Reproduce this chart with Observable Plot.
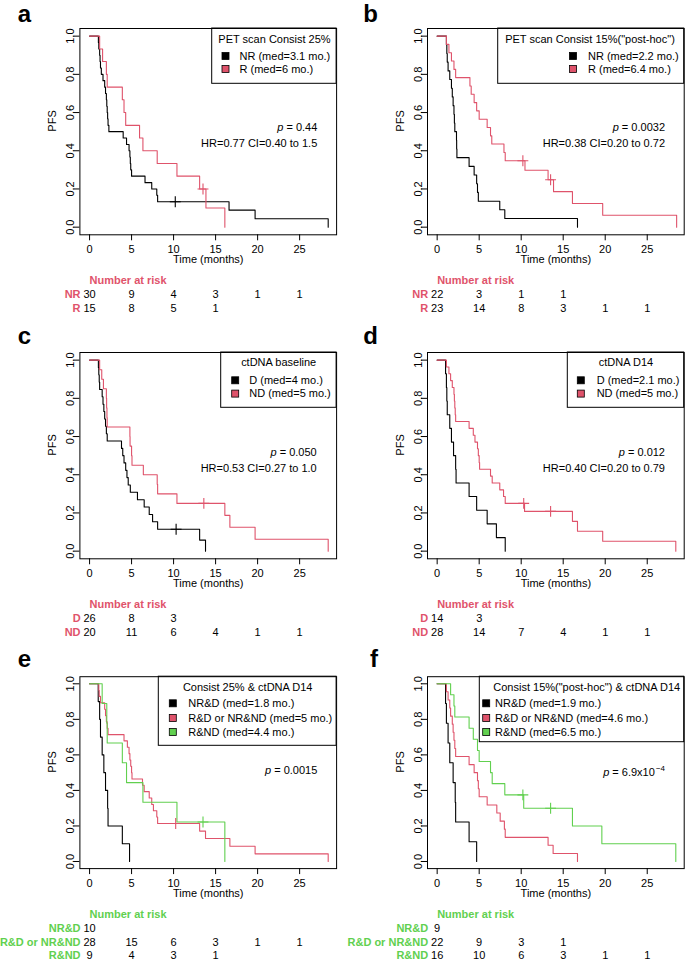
<!DOCTYPE html>
<html><head><meta charset="utf-8">
<script src="https://cdn.jsdelivr.net/npm/d3@7"></script>
<script src="https://cdn.jsdelivr.net/npm/@observablehq/plot@0.6"></script>
<style>
body{margin:0;background:#fff;}
#page{position:relative;width:685px;height:963px;overflow:hidden;background:#fff;font-family:"Liberation Sans",Arial,Helvetica,sans-serif;}
.panel{position:absolute;}
.panel svg{max-width:none !important;background:transparent !important;display:block;}
</style></head><body><div id="page"></div>
<script>
// ---------- shared ----------
const xTicks = [0, 5, 10, 15, 20, 25];
const yTicks = [0, 0.2, 0.4, 0.6, 0.8, 1.0];
const riskTimes = [0, 5, 10, 15, 20, 25];
const BLACK = "#000000", RED = "#DF536B", GREEN = "#61D04F";

// ---------- panel a : PET scan Consist 25% ----------
const a_NR_time = [1.05,1.1,1.2,1.25,1.3,1.4,1.6,1.8,1.9,2.0,2.05,2.1,2.15,2.2,2.3,4.0,4.4,4.7,4.8,4.85,4.9,5.0,6.6,7.4,8.0,8.1,16.6,19.7,28.4];
const a_NR_surv = [0.967,0.933,0.9,0.867,0.833,0.8,0.767,0.733,0.7,0.667,0.633,0.6,0.567,0.533,0.5,0.467,0.433,0.4,0.367,0.333,0.3,0.267,0.233,0.2,0.167,0.133,0.089,0.044,0];
const a_NR_cens = [10.2];
const a_R_time = [1.2,1.55,2.0,2.1,3.9,4.1,4.3,5.95,6.35,8.05,10.4,13.1,13.85,16.1];
const a_R_surv = [0.933,0.867,0.8,0.733,0.667,0.6,0.533,0.467,0.4,0.333,0.267,0.2,0.1,0];
const a_R_cens = [13.5];
const a_risk_NR = [30,9,4,3,1,1];
const a_risk_R = [15,8,5,1];
const a_title = "PET scan Consist 25%";
const a_labels = ["NR (med=3.1 mo.)", "R (med=6 mo.)"];
const a_stats = ["0.44", "HR=0.77 CI=0.40 to 1.5"];

// ---------- panel b : PET scan Consist 15% ----------
const b_NR_time = [1.1,1.15,1.2,1.3,1.5,1.7,1.8,1.9,2.0,2.05,2.1,2.3,2.32,2.35,3.8,4.4,4.7,4.8,4.9,7.45,8.05,16.7];
const b_NR_surv = [0.955,0.909,0.864,0.818,0.773,0.727,0.682,0.636,0.591,0.545,0.5,0.455,0.409,0.364,0.318,0.273,0.227,0.182,0.136,0.091,0.045,0];
const b_NR_cens = [];
const b_R_time = [1.1,1.4,1.7,2.0,2.2,3.9,4.05,4.4,4.7,5.0,5.95,6.35,6.5,7.95,8.1,10.45,13.2,13.85,16.1,19.7,28.5];
const b_R_surv = [0.957,0.913,0.870,0.826,0.783,0.739,0.696,0.652,0.609,0.565,0.522,0.478,0.435,0.391,0.348,0.298,0.248,0.186,0.124,0.062,0];
const b_R_cens = [10.2, 13.5];
const b_risk_NR = [22,3,1,1];
const b_risk_R = [23,14,8,3,1,1];
const b_title = 'PET scan Consist 15%("post-hoc")';
const b_labels = ["NR (med=2.2 mo.)", "R (med=6.4 mo.)"];
const b_stats = ["0.0032", "HR=0.38 CI=0.20 to 0.72"];

// ---------- panel c : ctDNA baseline ----------
const c_D_time = [1.05,1.1,1.15,1.2,1.5,1.6,1.7,1.8,1.9,2.0,2.1,3.8,3.95,4.1,4.3,4.45,4.6,4.85,5.7,6.5,7.1,7.5,8.1,13.1,13.8];
const c_D_surv = [0.962,0.923,0.885,0.846,0.808,0.769,0.731,0.692,0.654,0.615,0.577,0.538,0.5,0.462,0.423,0.385,0.346,0.308,0.269,0.231,0.192,0.154,0.115,0.058,0];
const c_D_cens = [10.3];
const c_ND_time = [1.2,1.45,1.65,2.0,2.03,2.07,2.1,4.8,4.82,5.0,5.05,6.4,8.05,8.1,10.4,16.1,16.7,19.7,28.4];
const c_ND_surv = [0.95,0.9,0.85,0.8,0.75,0.7,0.65,0.6,0.55,0.5,0.45,0.4,0.35,0.3,0.25,0.1875,0.125,0.0625,0];
const c_ND_cens = [13.6];
const c_risk_D = [26,8,3];
const c_risk_ND = [20,11,6,4,1,1];
const c_title = "ctDNA baseline";
const c_labels = ["D (med=4 mo.)", "ND (med=5 mo.)"];
const c_stats = ["0.050", "HR=0.53 CI=0.27 to 1.0"];

// ---------- panel d : ctDNA D14 ----------
const d_D_time = [1.0,1.1,1.15,1.2,1.5,1.7,1.95,2.2,2.25,3.8,4.7,5.95,7.05,8.1];
const d_D_surv = [0.929,0.857,0.786,0.714,0.643,0.571,0.5,0.429,0.357,0.286,0.214,0.143,0.071,0];
const d_D_cens = [];
const d_ND_time = [1.1,1.4,1.6,1.8,2.0,2.05,2.1,2.15,2.2,3.8,4.3,4.5,4.8,4.9,5.0,5.05,6.35,6.55,7.45,7.9,8.1,10.4,16.1,16.7,19.7,28.4];
const d_ND_surv = [0.964,0.929,0.893,0.857,0.821,0.786,0.75,0.714,0.679,0.643,0.607,0.571,0.536,0.5,0.464,0.429,0.393,0.357,0.321,0.286,0.25,0.208,0.156,0.104,0.052,0];
const d_ND_cens = [10.3, 13.5];
const d_risk_D = [14,3];
const d_risk_ND = [28,14,7,4,1,1];
const d_title = "ctDNA D14";
const d_labels = ["D (med=2.1 mo.)", "ND (med=5 mo.)"];
const d_stats = ["0.012", "HR=0.40 CI=0.20 to 0.79"];

// ---------- panel e : Consist 25% & ctDNA D14 ----------
const e_NRD_time = [1.03,1.2,1.3,1.5,1.7,1.9,2.15,2.2,3.9,4.76];
const e_NRD_surv = [0.9,0.8,0.7,0.6,0.5,0.4,0.3,0.2,0.1,0];
const e_NRD_cens = [];
const e_RD_time = [1.1,1.15,1.3,1.8,1.9,2.0,2.1,2.2,4.1,4.5,4.7,4.8,4.9,5.0,5.05,6.3,6.5,7.1,7.4,7.6,8.0,8.1,13.1,13.8,16.7,19.7,28.4];
const e_RD_surv = [0.964,0.929,0.893,0.857,0.821,0.786,0.75,0.714,0.679,0.643,0.607,0.571,0.536,0.5,0.464,0.429,0.393,0.357,0.321,0.286,0.25,0.214,0.171,0.129,0.086,0.043,0];
const e_RD_cens = [10.25];
const e_RND_time = [1.5,2.05,2.1,3.9,4.4,6.35,10.4,16.1];
const e_RND_surv = [0.889,0.778,0.667,0.556,0.444,0.333,0.222,0];
const e_RND_cens = [13.5];
const e_risk_NRD = [10];
const e_risk_RD = [28,15,6,3,1,1];
const e_risk_RND = [9,4,3,1];
const e_title = "Consist 25% & ctDNA D14";
const e_labels = ["NR&D (med=1.8 mo.)", "R&D or NR&ND (med=5 mo.)", "R&ND (med=4.4 mo.)"];
const e_stats = ["0.0015"];

// ---------- panel f : Consist 15% & ctDNA D14 ----------
const f_NRD_time = [1.0,1.1,1.3,1.5,1.9,2.15,2.2,3.8,4.7];
const f_NRD_surv = [0.889,0.778,0.667,0.556,0.444,0.333,0.222,0.111,0];
const f_NRD_cens = [];
const f_RD_time = [1.1,1.3,1.5,1.6,1.8,1.9,2.0,2.1,2.2,3.8,4.4,4.8,4.9,5.0,5.95,7.1,7.5,8.0,8.1,13.2,13.8,16.7];
const f_RD_surv = [0.955,0.909,0.864,0.818,0.773,0.727,0.682,0.636,0.591,0.545,0.5,0.455,0.409,0.364,0.318,0.273,0.227,0.182,0.136,0.091,0.045,0];
const f_RD_cens = [];
const f_RND_time = [1.6,2.0,2.1,3.8,4.3,4.8,5.0,6.35,6.55,8.05,10.3,16.1,19.6,28.4];
const f_RND_surv = [0.938,0.875,0.813,0.75,0.688,0.625,0.563,0.5,0.438,0.375,0.3,0.2,0.1,0];
const f_RND_cens = [10.2, 13.5];
const f_risk_NRD = [9];
const f_risk_RD = [22,9,3,1];
const f_risk_RND = [16,10,6,3,1,1];
const f_title = 'Consist 15%("post-hoc") & ctDNA D14';
const f_labels = ["NR&D (med=1.9 mo.)", "R&D or NR&ND (med=4.6 mo.)", "R&ND (med=6.5 mo.)"];
const f_stats = ["6.9x10", "\u22124"];

// ---------- helpers ----------
const FONT = '"Liberation Sans", Arial, Helvetica, sans-serif';
function stepData(time, surv) {
  return [{t: 0, s: 1}, ...time.map((t, i) => ({t, s: surv[i]}))];
}
function censData(time, surv, cens) {
  return cens.map(c => {
    let s = 1;
    time.forEach((t, i) => { if (t <= c) s = surv[i]; });
    return {t: c, s};
  });
}

function panel(cfg) {
  const G = cfg.geom;
  const marks = [
    Plot.frame({stroke: "black", strokeWidth: 1}),
    Plot.axisX({ticks: xTicks, tickSize: 6, tickPadding: 4.5, label: null, tickFormat: d => String(d)}),
    Plot.axisY({ticks: yTicks, tickSize: 6, tickPadding: 0, tickRotate: -90, label: null, tickFormat: d => d.toFixed(1)}),
  ];
  cfg.curves.forEach(c => {
    marks.push(Plot.line(stepData(c.time, c.surv), {x: "t", y: "s", stroke: c.color, strokeWidth: 1.1, curve: "step-after"}));
  });
  cfg.curves.forEach(c => {
    const cd = censData(c.time, c.surv, c.cens);
    if (cd.length) marks.push(Plot.dot(cd, {x: "t", y: "s", symbol: "plus", r: 3.6, stroke: c.color, strokeWidth: 1.1}));
  });
  marks.push(Plot.text(["Time (months)"], {text: d => d, frameAnchor: "bottom", dy: 28.5, fontSize: 11}));
  marks.push(Plot.text(["PFS"], {text: d => d, frameAnchor: "left", dx: -27.3, rotate: -90, fontSize: 11}));
  marks.push(Plot.text(["Number at risk"], {text: d => d, x: 0, frameAnchor: "bottom", dy: 49.5, textAnchor: "start", fill: cfg.riskColor, fontWeight: "bold", fontSize: 11}));
  const rowDy = [63, 77, 90.5];
  cfg.risk.forEach((row, i) => {
    const rd = row.counts.map((n, j) => ({t: riskTimes[j], n}));
    marks.push(Plot.text(rd, {x: "t", text: d => String(d.n), frameAnchor: "bottom", dy: rowDy[i], fill: "black", fontSize: 11}));
    marks.push(Plot.text([row.label], {text: d => d, x: 0, dx: -9, frameAnchor: "bottom", dy: rowDy[i], textAnchor: "end", fill: cfg.riskColor, fontWeight: "bold", fontSize: 11}));
  });

  const svg = Plot.plot({
    width: G.width, height: G.height,
    marginLeft: G.mL, marginRight: G.mR, marginTop: G.mT, marginBottom: G.mB,
    x: {domain: [-1.15, 29.4]},
    y: {domain: [-0.04, 1.04]},
    style: {fontFamily: FONT, fontSize: "11px", background: "transparent", color: "black", overflow: "visible"},
    marks
  });

  // legend
  const L = cfg.legend;
  const g = d3.select(svg).append("g").attr("font-family", FONT).attr("font-size", 11).attr("fill", "black");
  g.append("rect").attr("x", L.x0).attr("y", G.mT).attr("width", (G.width - G.mR) - L.x0).attr("height", L.y1 - G.mT)
    .attr("fill", "none").attr("stroke", "black").attr("stroke-width", 1);
  g.append("text").attr("x", L.titleX).attr("y", L.titleY).attr("dy", "0.35em")
    .attr("text-anchor", L.titleAnchor || "middle").text(cfg.title);
  cfg.curves.forEach((c, i) => {
    g.append("rect").attr("x", L.sqX).attr("y", L.rowsY[i] - 3.5).attr("width", 7).attr("height", 7)
      .attr("fill", c.color).attr("stroke", "black").attr("stroke-width", 0.8);
    g.append("text").attr("x", L.textX).attr("y", L.rowsY[i]).attr("dy", "0.35em").attr("text-anchor", "start").text(cfg.labels[i]);
  });

  // p value and HR
  const P = cfg.pval;
  const pt = g.append("text").attr("x", P.x).attr("y", P.y).attr("dy", "0.35em").attr("text-anchor", "end");
  pt.append("tspan").attr("font-style", "italic").text("p");
  pt.append("tspan").text(" = " + cfg.stats[0]);
  if (cfg.superscript) {
    pt.append("tspan").attr("font-size", 8).attr("dy", "-0.6em").attr("dx", 1).text(cfg.stats[1]);
  } else if (cfg.stats.length > 1) {
    g.append("text").attr("x", P.x).attr("y", P.y + 15.4).attr("dy", "0.35em").attr("text-anchor", "end").text(cfg.stats[1]);
  }

  // panel letter
  g.append("text").attr("x", cfg.letterPos[0]).attr("y", cfg.letterPos[1]).attr("text-anchor", "end")
    .attr("font-size", 24).attr("font-weight", "bold").text(cfg.letter);

  const div = document.createElement("div");
  div.className = "panel";
  div.style.left = G.left + "px";
  div.style.top = G.top + "px";
  div.style.width = G.width + "px";
  div.style.height = G.height + "px";
  div.appendChild(svg);
  document.getElementById("page").appendChild(div);
}

const GL = {width: 340, mL: 79.4, mR: 3.9};
const GR = {width: 345, mL: 87, mR: 1.3};

panel({
  letter: "a", letterPos: [31, 21.5],
  geom: {...GL, left: 0, top: 0, height: 324, mT: 28, mB: 89.7},
  curves: [
    {time: a_NR_time, surv: a_NR_surv, cens: a_NR_cens, color: BLACK},
    {time: a_R_time, surv: a_R_surv, cens: a_R_cens, color: RED}
  ],
  risk: [{label: "NR", counts: a_risk_NR}, {label: "R", counts: a_risk_R}],
  riskColor: RED,
  title: a_title, labels: a_labels, stats: a_stats,
  legend: {x0: 211.7, y1: 83.3, titleX: 274.5, titleY: 39, sqX: 222, textX: 239.5, rowsY: [56, 69]},
  pval: {x: 317.3, y: 127.3}
});
panel({
  letter: "b", letterPos: [38, 21.5],
  geom: {...GR, left: 340, top: 0, height: 324, mT: 28, mB: 89.7},
  curves: [
    {time: b_NR_time, surv: b_NR_surv, cens: b_NR_cens, color: BLACK},
    {time: b_R_time, surv: b_R_surv, cens: b_R_cens, color: RED}
  ],
  risk: [{label: "NR", counts: b_risk_NR}, {label: "R", counts: b_risk_R}],
  riskColor: RED,
  title: b_title, labels: b_labels, stats: b_stats,
  legend: {x0: 157.7, y1: 83.3, titleX: 250, titleY: 39, sqX: 229.5, textX: 248, rowsY: [56, 69]},
  pval: {x: 325, y: 127.3}
});
panel({
  letter: "c", letterPos: [31, 20],
  geom: {...GL, left: 0, top: 324.4, height: 323.6, mT: 28, mB: 89.3},
  curves: [
    {time: c_D_time, surv: c_D_surv, cens: c_D_cens, color: BLACK},
    {time: c_ND_time, surv: c_ND_surv, cens: c_ND_cens, color: RED}
  ],
  risk: [{label: "D", counts: c_risk_D}, {label: "ND", counts: c_risk_ND}],
  riskColor: RED,
  title: c_title, labels: c_labels, stats: c_stats,
  legend: {x0: 220.7, y1: 83.3, titleX: 278.7, titleY: 38.5, sqX: 231.7, textX: 249.3, rowsY: [56.3, 69.6]},
  pval: {x: 316.7, y: 128.3}
});
panel({
  letter: "d", letterPos: [38, 20],
  geom: {...GR, left: 340, top: 324.4, height: 323.6, mT: 28, mB: 89.3},
  curves: [
    {time: d_D_time, surv: d_D_surv, cens: d_D_cens, color: BLACK},
    {time: d_ND_time, surv: d_ND_surv, cens: d_ND_cens, color: RED}
  ],
  risk: [{label: "D", counts: d_risk_D}, {label: "ND", counts: d_risk_ND}],
  riskColor: RED,
  title: d_title, labels: d_labels, stats: d_stats,
  legend: {x0: 227.3, y1: 83.3, titleX: 286, titleY: 38.5, sqX: 237.3, textX: 256.7, rowsY: [56.3, 69.6]},
  pval: {x: 325, y: 128.3}
});
panel({
  letter: "e", letterPos: [31, 18.5],
  geom: {...GL, left: 0, top: 648, height: 315, mT: 28.2, mB: 94.9},
  curves: [
    {time: e_NRD_time, surv: e_NRD_surv, cens: e_NRD_cens, color: BLACK},
    {time: e_RD_time, surv: e_RD_surv, cens: e_RD_cens, color: RED},
    {time: e_RND_time, surv: e_RND_surv, cens: e_RND_cens, color: GREEN}
  ],
  risk: [{label: "NR&D", counts: e_risk_NRD}, {label: "R&D or NR&ND", counts: e_risk_RD}, {label: "R&ND", counts: e_risk_RND}],
  riskColor: GREEN,
  title: e_title, labels: e_labels, stats: e_stats,
  legend: {x0: 158.3, y1: 97.3, titleX: 247.7, titleY: 38.7, sqX: 169.3, textX: 188.3, rowsY: [55.3, 70, 84]},
  pval: {x: 317.3, y: 122}
});
panel({
  letter: "f", letterPos: [38, 18.5],
  geom: {...GR, left: 340, top: 648, height: 315, mT: 28.2, mB: 94.9},
  curves: [
    {time: f_NRD_time, surv: f_NRD_surv, cens: f_NRD_cens, color: BLACK},
    {time: f_RD_time, surv: f_RD_surv, cens: f_RD_cens, color: RED},
    {time: f_RND_time, surv: f_RND_surv, cens: f_RND_cens, color: GREEN}
  ],
  risk: [{label: "NR&D", counts: f_risk_NRD}, {label: "R&D or NR&ND", counts: f_risk_RD}, {label: "R&ND", counts: f_risk_RND}],
  riskColor: GREEN,
  title: f_title, labels: f_labels, stats: f_stats, superscript: true,
  legend: {x0: 139.3, y1: 93.7, titleX: 153.3, titleAnchor: "start", titleY: 38.7, sqX: 142.7, textX: 155, rowsY: [55.3, 70, 84]},
  pval: {x: 325, y: 123.7}
});
</script></body></html>
